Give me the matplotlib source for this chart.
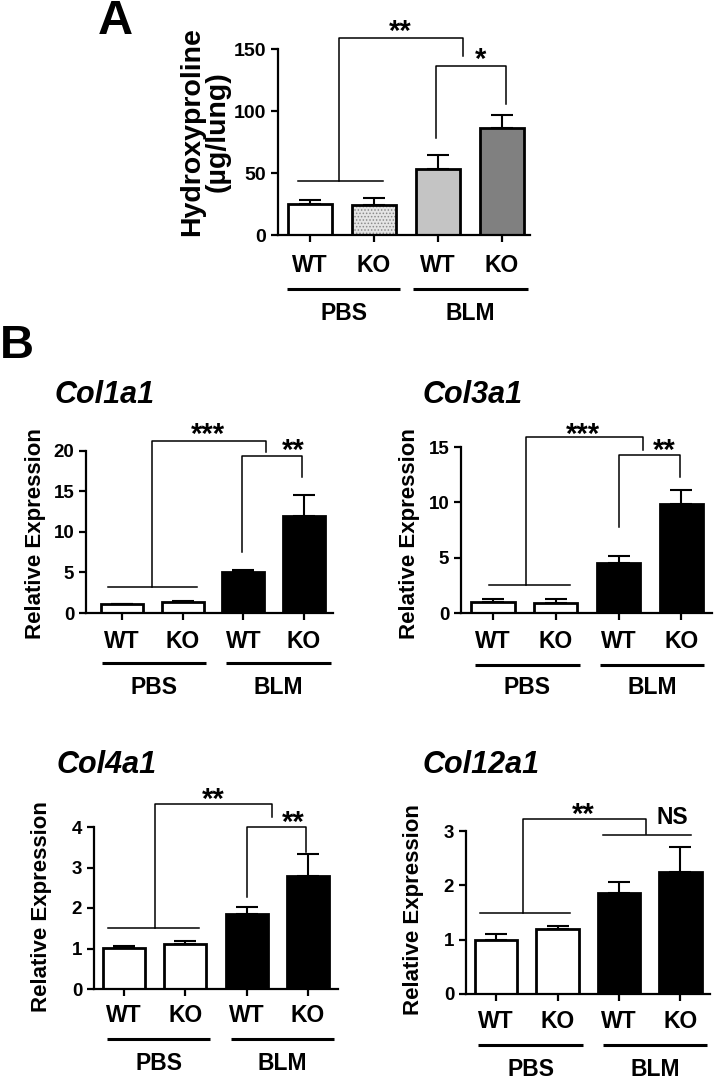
import matplotlib
matplotlib.use('Agg')
import matplotlib.pyplot as plt
import matplotlib.transforms as mtransforms

plt.rcParams['font.family'] = ['Liberation Sans', 'DejaVu Sans']
plt.rcParams['font.weight'] = 'bold'
plt.rcParams['hatch.linewidth'] = 0.7

W, H, DPI = 715, 1081, 100

# ---------------- data ----------------
genotypes = ['WT', 'KO', 'WT', 'KO']
treatments = ['PBS', 'BLM']

hyp_mean = [25, 24, 53, 86]
hyp_err = [3, 6, 11.5, 11]

col1a1_mean = [1.1, 1.4, 5.0, 12.0]
col1a1_err = [0.05, 0.05, 0.35, 2.5]
col3a1_mean = [1.02, 0.93, 4.49, 9.85]
col3a1_err = [0.24, 0.36, 0.66, 1.25]
col4a1_mean = [1.02, 1.10, 1.84, 2.79]
col4a1_err = [0.04, 0.08, 0.18, 0.54]
col12a1_mean = [1.0, 1.19, 1.85, 2.25]
col12a1_err = [0.10, 0.06, 0.21, 0.46]

sig_labels = {
    'A': ['**', '*'],
    'Col1a1': ['***', '**'],
    'Col3a1': ['***', '**'],
    'Col4a1': ['**', '**'],
    'Col12a1': ['**', 'NS'],
}

fig = plt.figure(figsize=(W / DPI, H / DPI), dpi=DPI)


def figy(px):
    return 1 - px / H


def make_ax(l, r, y0, ytop, ymax, xlim):
    ax = fig.add_axes([l / W, 1 - y0 / H, (r - l) / W, (y0 - ytop) / H])
    ax.set_ylim(0, ymax)
    ax.set_xlim(*xlim)
    for s in ('top', 'right'):
        ax.spines[s].set_visible(False)
    for s in ('left', 'bottom'):
        ax.spines[s].set_linewidth(1.6)
    ax.patch.set_alpha(0)
    return ax


def draw_panel(ax, means, errs, colors, yticks, tick_fs, lab_y, line_y, grp_y,
               grp_lines, lab_fs=16.5, hatched=None):
    x = list(range(len(means)))
    ax.errorbar(x, means, yerr=[[0] * len(errs), errs], fmt='none', ecolor='black',
                elinewidth=1.5, capsize=8, capthick=1.5, zorder=1, clip_on=False)
    for i in x:
        if hatched is not None and i == hatched:
            ax.bar(i, means[i], width=0.69, color='#e4e4e4', edgecolor='#8a8a8a',
                   hatch='.....', linewidth=0, zorder=2)
            ax.bar(i, means[i], width=0.69, facecolor='none', edgecolor='black',
                   linewidth=2.0, zorder=3)
        else:
            ax.bar(i, means[i], width=0.69, color=colors[i], edgecolor='black',
                   linewidth=2.0, zorder=2)
    ax.set_yticks(yticks)
    ax.set_yticklabels([str(t) for t in yticks], fontsize=tick_fs, fontweight='bold')
    ax.set_xticks(x)
    ax.set_xticklabels([])
    ax.tick_params(axis='both', direction='out', length=5, width=1.6)
    tr = mtransforms.blended_transform_factory(ax.transData, fig.transFigure)
    for i, g in enumerate(genotypes):
        ax.text(i, figy(lab_y), g, transform=tr, ha='center', va='center',
                fontsize=lab_fs, fontweight='bold')
    for (a, b), t in zip(grp_lines, treatments):
        ax.plot([a, b], [figy(line_y)] * 2, transform=tr, color='black', lw=2.2,
                clip_on=False, solid_capstyle='butt')
        ax.text((a + b) / 2, figy(grp_y), t, transform=tr, ha='center', va='center',
                fontsize=lab_fs, fontweight='bold')
    return tr


def bracket(ax, pbs_span, pbs_h, xv, top, xr, hr):
    kw = dict(color='black', lw=1.1, clip_on=False)
    ax.plot(pbs_span, [pbs_h, pbs_h], **kw)
    ax.plot([xv, xv, xr, xr], [pbs_h, top, top, hr], **kw)


def bracket2(ax, xl, hl, top, xr, hr):
    ax.plot([xl, xl, xr, xr], [hl, top, top, hr], color='black', lw=1.1, clip_on=False)


def star(ax, tr, x, ypx, s, fs=21):
    if s == 'NS':
        ax.text(x, figy(ypx), s, transform=tr, ha='center', va='center',
                fontsize=16.5, fontweight='bold')
    else:
        ax.text(x, figy(ypx + 0.55 * fs * DPI / 72), s, transform=tr, ha='center',
                va='baseline', fontsize=fs, fontweight='bold')


# ---------------- Panel A ----------------
fig.text(115 / W, figy(21), 'A', fontsize=35, fontweight='bold', ha='center', va='center')
axA = make_ax(278, 530, 235, 49, 150, (-0.5, 3.44))
trA = draw_panel(axA, hyp_mean, hyp_err, ['white', '#e4e4e4', '#c4c4c4', '#808080'],
                 [0, 50, 100, 150], 14, 265, 289, 313,
                 [(-0.36, 1.41), (1.61, 3.41)], hatched=1)
bracket(axA, [-0.19, 1.14], 43.5, 0.45, 158.6, 2.39, 144.6)
bracket2(axA, 1.97, 78, 136.5, 3.06, 106)
star(axA, trA, 1.41, 24, sig_labels['A'][0])
star(axA, trA, 2.67, 52, sig_labels['A'][1])
fig.text(205 / W, figy(132), 'Hydroxyproline\n(\u00b5g/lung)', rotation=90, fontsize=20.5,
         fontweight='bold', ha='center', va='center', linespacing=1.0)

# ---------------- Panel B ----------------
fig.text(17 / W, figy(346), 'B', fontsize=34, fontweight='bold', ha='center', va='center')

white2black = ['white', 'white', 'black', 'black']

# Col1a1
ax1 = make_ax(86, 333, 613, 450.7, 20, (-0.593, 3.476))
tr1 = draw_panel(ax1, col1a1_mean, col1a1_err, white2black, [0, 5, 10, 15, 20], 13.5,
                 642, 663, 688, [(-0.33, 1.39), (1.72, 3.44)])
bracket(ax1, [-0.23, 1.24], 3.25, 0.5, 21.2, 2.38, 19.9)
bracket2(ax1, 1.98, 7.55, 19.4, 2.97, 16.8)
star(ax1, tr1, 1.42, 426.7, sig_labels['Col1a1'][0])
star(ax1, tr1, 2.82, 443.3, sig_labels['Col1a1'][1])
fig.text(55 / W, figy(395), 'Col1a1', fontsize=22, fontweight='bold', style='italic',
         ha='left', va='center')
fig.text(36 / W, figy(534), 'Relative Expression', rotation=90, fontsize=16,
         fontweight='bold', ha='center', va='center')

# Col3a1
ax3 = make_ax(461, 712, 613, 447, 15, (-0.51, 3.49))
tr3 = draw_panel(ax3, col3a1_mean, col3a1_err, white2black, [0, 5, 10, 15], 13.5,
                 642, 665, 688, [(-0.29, 1.38), (1.70, 3.37)])
bracket(ax3, [-0.07, 1.22], 2.53, 0.53, 15.87, 2.39, 14.7)
bracket2(ax3, 2.0, 7.8, 14.27, 2.98, 12.26)
star(ax3, tr3, 1.44, 426.7, sig_labels['Col3a1'][0])
star(ax3, tr3, 2.73, 443, sig_labels['Col3a1'][1])
fig.text(423 / W, figy(395), 'Col3a1', fontsize=22, fontweight='bold', style='italic',
         ha='left', va='center')
fig.text(409 / W, figy(534), 'Relative Expression', rotation=90, fontsize=16,
         fontweight='bold', ha='center', va='center')

# Col4a1
ax4 = make_ax(94, 338, 989, 827, 4, (-0.49, 3.49))
tr4 = draw_panel(ax4, col4a1_mean, col4a1_err, white2black, [0, 1, 2, 3, 4], 13.5,
                 1015, 1039, 1063, [(-0.27, 1.41), (1.74, 3.43)])
bracket(ax4, [-0.26, 1.23], 1.51, 0.51, 4.56, 2.42, 4.24)
bracket2(ax4, 2.0, 2.26, 3.99, 2.97, 3.39)
star(ax4, tr4, 1.46, 791.7, sig_labels['Col4a1'][0])
star(ax4, tr4, 2.76, 815, sig_labels['Col4a1'][1])
fig.text(57 / W, figy(765), 'Col4a1', fontsize=22, fontweight='bold', style='italic',
         ha='left', va='center')
fig.text(42 / W, figy(907), 'Relative Expression', rotation=90, fontsize=16,
         fontweight='bold', ha='center', va='center')

# Col12a1
ax12 = make_ax(466, 710, 994, 831, 3, (-0.49, 3.48))
tr12 = draw_panel(ax12, col12a1_mean, col12a1_err, white2black, [0, 1, 2, 3], 13.5,
                  1021.7, 1045, 1070, [(-0.29, 1.41), (1.74, 3.43)])
bracket(ax12, [-0.27, 1.2], 1.50, 0.44, 3.22, 2.44, 2.95)
ax12.plot([1.74, 3.17], [2.93, 2.93], color='black', lw=1.1, clip_on=False)
star(ax12, tr12, 1.42, 806.7, sig_labels['Col12a1'][0])
star(ax12, tr12, 2.87, 817.3, sig_labels['Col12a1'][1])
fig.text(423 / W, figy(765), 'Col12a1', fontsize=22, fontweight='bold', style='italic',
         ha='left', va='center')
fig.text(414 / W, figy(910), 'Relative Expression', rotation=90, fontsize=16,
         fontweight='bold', ha='center', va='center')

fig.savefig('out.png', dpi=DPI)
